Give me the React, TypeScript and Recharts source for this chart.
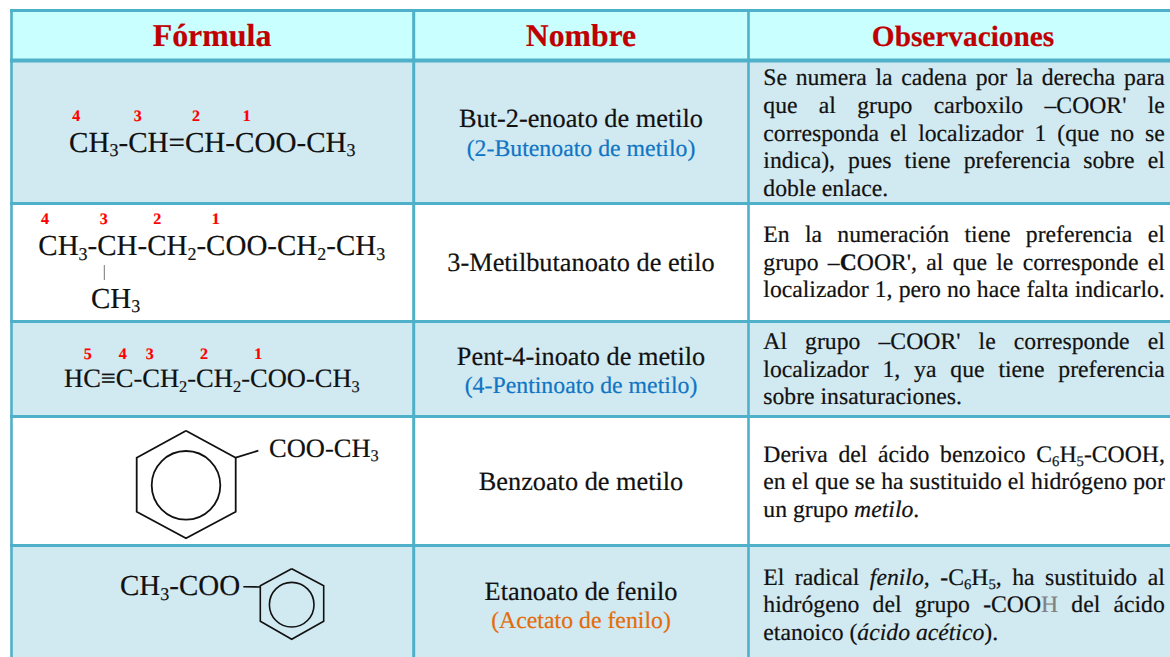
import {
  ReferenceArea,
  ReferenceDot,
  ReferenceLine,
  Scatter,
  ScatterChart,
  XAxis,
  YAxis,
} from 'recharts'

// Markup used in the strings: ~x~ subscript, *x* italic, #x# bold, {x} grey
const headers = ['Fórmula', 'Nombre', 'Observaciones']
const names = [
  'But-2-enoato de metilo',
  '3-Metilbutanoato de etilo',
  'Pent-4-inoato de metilo',
  'Benzoato de metilo',
  'Etanoato de fenilo',
]
const aliases = ['(2-Butenoato de metilo)', '(4-Pentinoato de metilo)', '(Acetato de fenilo)']
const formulas = [
  'CH~3~-CH=CH-COO-CH~3~',
  'CH~3~-CH-CH~2~-COO-CH~2~-CH~3~',
  'CH~3~',
  'HC≡C-CH~2~-CH~2~-COO-CH~3~',
  'COO-CH~3~',
  'CH~3~-COO',
]
const locants = ['4', '3', '2', '1', '4', '3', '2', '1', '5', '4', '3', '2', '1']
const observations = [
  'Se numera la cadena por la derecha para',
  "que al grupo carboxilo –COOR' le",
  'corresponda el localizador 1 (que no se',
  'indica), pues tiene preferencia sobre el',
  'doble enlace.',
  'En la numeración tiene preferencia el',
  "grupo –#C#OOR', al que le corresponde el",
  'localizador 1, pero no hace falta indicarlo.',
  "Al grupo –COOR' le corresponde el",
  'localizador 1, ya que tiene preferencia',
  'sobre insaturaciones.',
  'Deriva del ácido benzoico C~6~H~5~-COOH,',
  'en el que se ha sustituido el hidrógeno por',
  'un grupo *metilo*.',
  'El radical *fenilo*, #-#C~6~H~5~, ha sustituido al',
  'hidrógeno del grupo #-#COO{H} del ácido',
  'etanoico (*ácido acético*).',
]
const lastLines = [4, 10, 13, 16]

// Grid, in picture coordinates
const rowEdges = [10.5, 60.5, 203.5, 321.5, 416.5, 545.5, 657]
const columnEdges = [11.5, 413.7, 748.5, 1170]
const rowFills = ['#c9ffff', '#d1e9f1', '#ffffff', '#d1e9f1', '#ffffff', '#d1e9f1']

const headerX = [212, 581, 963]
const headerSizes = [31.9, 31.7, 29.3]
const nameY = [126.7, 271, 364.5, 490, 599.5]
const aliasY = [156, 393, 627.5]
const aliasColors = ['#0f75c4', '#0f75c4', '#e46c0a']
const formulaX = [69, 38.3, 91, 64, 269, 120]
const formulaY = [151.5, 255, 307.7, 387.3, 456.7, 595]
const formulaSizes = [29.1, 29, 29, 26.5, 26.5, 29]
const locantX = [76.3, 137.7, 196, 246.7, 45, 103.7, 157.3, 215.7, 87.7, 122.7, 149.7, 204, 258.3]
const locantY = [121, 121, 121, 121, 224, 224, 224, 224, 359, 359, 359, 359, 359]
const observationY = [
  85, 112.7, 140.7, 168, 195.7, 241.7, 270, 297.3, 349, 376.7, 404.3, 462.3, 489.3, 517.3, 585,
  612.3, 640,
]

const ringLarge = [
  { x: 186, y: 430.7 },
  { x: 235.7, y: 457.7 },
  { x: 235.7, y: 511.7 },
  { x: 186, y: 538.3 },
  { x: 136.7, y: 511.7 },
  { x: 136.7, y: 457.7 },
  { x: 186, y: 430.7 },
]
const bondLarge = [
  { x: 235.7, y: 457.7 },
  { x: 258.3, y: 450.7 },
]
const ringSmall = [
  { x: 291.7, y: 568.7 },
  { x: 323.7, y: 585.7 },
  { x: 323.7, y: 621.3 },
  { x: 291.7, y: 639.3 },
  { x: 260.3, y: 621.3 },
  { x: 260.3, y: 585.7 },
  { x: 291.7, y: 568.7 },
]
const bondSmall = [
  { x: 243.3, y: 586.7 },
  { x: 260.3, y: 587 },
]
const stem = [
  { x: 104.3, y: 265 },
  { x: 104.3, y: 280 },
]

const FONT = '"Liberation Serif", "Times New Roman", serif'
const BORDER = '#4fb0c9'
const TEXT = '#111111'
const SUB_RATIO = 0.62

type Run = { text: string; sub: boolean; italic: boolean; bold: boolean; grey: boolean }

function parseRuns(source: string): Run[] {
  return source
    .split(/(~[^~]+~|\*[^*]+\*|#[^#]+#|\{[^}]+\})/)
    .filter((part) => part !== '')
    .map((part) => {
      const mark = part[0]
      const marked = part.length > 2 && '~*#{'.includes(mark)
      return {
        text: marked ? part.slice(1, -1) : part,
        sub: marked && mark === '~',
        italic: marked && mark === '*',
        bold: marked && mark === '#',
        grey: marked && mark === '{',
      }
    })
}

let canvas: HTMLCanvasElement | null = null
function measure(run: Run, size: number) {
  canvas = canvas ?? document.createElement('canvas')
  const ctx = canvas.getContext('2d') as CanvasRenderingContext2D
  const px = run.sub ? size * SUB_RATIO : size
  ctx.font = `${run.italic ? 'italic ' : ''}${run.bold ? 'bold ' : ''}${px}px ${FONT}`
  return ctx.measureText(run.text).width
}

type RichProps = {
  cx?: number
  cy?: number
  payload?: any
  size: number
  fill?: string
  weight?: string | number
  anchor?: 'start' | 'middle'
  justifyTo?: number
  subShift?: number
}

// Shape for the text series: one text element per point
function RichText({ cx = 0, cy = 0, payload, size, fill, weight, anchor = 'start', justifyTo, subShift = 4.5 }: RichProps) {
  const runs = parseRuns(payload.label)
  const px = payload.size ?? size
  const color = payload.color ?? fill ?? TEXT
  let wordSpacing = 0
  if (justifyTo && !payload.last) {
    const natural = runs.reduce((sum, r) => sum + measure(r, px), 0)
    const gaps = runs.reduce((sum, r) => sum + (r.text.match(/ /g) ?? []).length, 0)
    wordSpacing = gaps > 0 ? (justifyTo - natural) / gaps : 0
  }
  return (
    <text
      x={cx}
      y={cy}
      textAnchor={anchor}
      fontFamily={FONT}
      fontSize={px}
      fontWeight={weight}
      fill={color}
      stroke={color}
      strokeWidth={0.2}
      textRendering="geometricPrecision"
      style={{ whiteSpace: 'pre', wordSpacing }}
    >
      {runs.map((r, i) => (
        <tspan
          key={i}
          y={r.sub ? cy + subShift : cy}
          fontSize={r.sub ? px * SUB_RATIO : undefined}
          fontStyle={r.italic ? 'italic' : undefined}
          fontWeight={r.bold ? 'bold' : undefined}
          fill={r.grey ? '#808080' : undefined}
          stroke={r.grey ? '#808080' : undefined}
        >
          {r.text}
        </tspan>
      ))}
    </text>
  )
}

const headerPoints = headers.map((label, i) => ({ x: headerX[i], y: 45.7, label, size: headerSizes[i] }))
const namePoints = names.map((label, i) => ({ x: 581, y: nameY[i], label }))
const aliasPoints = aliases.map((label, i) => ({ x: 581, y: aliasY[i], label, color: aliasColors[i] }))
const formulaPoints = formulas.map((label, i) => ({
  x: formulaX[i],
  y: formulaY[i],
  label,
  size: formulaSizes[i],
}))
const locantPoints = locants.map((label, i) => ({ x: locantX[i], y: locantY[i], label }))
const observationPoints = observations.map((label, i) => ({
  x: 763.3,
  y: observationY[i],
  label,
  last: lastLines.includes(i),
}))

export default function App() {
  return (
    <div style={{ position: 'absolute', left: 0, top: 0, width: 1170, height: 657, background: '#ffffff' }}>
      <ScatterChart width={1170} height={657} margin={{ top: 0, right: 0, bottom: 0, left: 0 }}>
        <XAxis type="number" dataKey="x" domain={[0, 1170]} hide />
        <YAxis type="number" dataKey="y" domain={[0, 657]} reversed hide />

        {rowFills.map((fill, i) => (
          <ReferenceArea
            key={i}
            x1={columnEdges[0]}
            x2={1170}
            y1={rowEdges[i]}
            y2={rowEdges[i + 1]}
            fill={fill}
            fillOpacity={1}
            stroke="none"
          />
        ))}
        {rowEdges.slice(0, -1).map((y, i) => (
          <ReferenceLine
            key={i}
            segment={[
              { x: 10, y },
              { x: 1170, y },
            ]}
            stroke={BORDER}
            strokeWidth={i === 1 ? 4 : 3}
          />
        ))}
        {columnEdges.slice(0, -1).map((x, i) => (
          <ReferenceLine
            key={i}
            segment={[
              { x, y: 9 },
              { x, y: 657 },
            ]}
            stroke={BORDER}
            strokeWidth={i === 1 ? 3 : 2.6}
          />
        ))}

        <Scatter
          data={ringLarge}
          line={{ stroke: '#111111', strokeWidth: 1.8 }}
          shape={() => null}
          isAnimationActive={false}
        />
        <Scatter
          data={bondLarge}
          line={{ stroke: '#111111', strokeWidth: 1.8 }}
          shape={() => null}
          isAnimationActive={false}
        />
        <Scatter
          data={ringSmall}
          line={{ stroke: '#111111', strokeWidth: 1.6 }}
          shape={() => null}
          isAnimationActive={false}
        />
        <Scatter
          data={bondSmall}
          line={{ stroke: '#111111', strokeWidth: 1.6 }}
          shape={() => null}
          isAnimationActive={false}
        />
        <Scatter
          data={stem}
          line={{ stroke: '#777777', strokeWidth: 1 }}
          shape={() => null}
          isAnimationActive={false}
        />
        <ReferenceDot x={186} y={485.3} r={34.3} fill="none" stroke="#111111" strokeWidth={1.8} />
        <ReferenceDot x={291.7} y={604.7} r={22.3} fill="none" stroke="#111111" strokeWidth={1.6} />

        <Scatter
          data={headerPoints}
          isAnimationActive={false}
          shape={(p: any) => <RichText {...p} size={31.7} weight="bold" fill="#c00000" anchor="middle" />}
        />
        <Scatter
          data={namePoints}
          isAnimationActive={false}
          shape={(p: any) => <RichText {...p} size={26.3} anchor="middle" />}
        />
        <Scatter
          data={aliasPoints}
          isAnimationActive={false}
          shape={(p: any) => <RichText {...p} size={23.8} anchor="middle" />}
        />
        <Scatter
          data={formulaPoints}
          isAnimationActive={false}
          shape={(p: any) => <RichText {...p} size={29} />}
        />
        <Scatter
          data={locantPoints}
          isAnimationActive={false}
          shape={(p: any) => <RichText {...p} size={16} weight="bold" fill="#ff0000" anchor="middle" />}
        />
        <Scatter
          data={observationPoints}
          isAnimationActive={false}
          shape={(p: any) => <RichText {...p} size={23.7} justifyTo={401.5} subShift={3.5} />}
        />
      </ScatterChart>
    </div>
  )
}
